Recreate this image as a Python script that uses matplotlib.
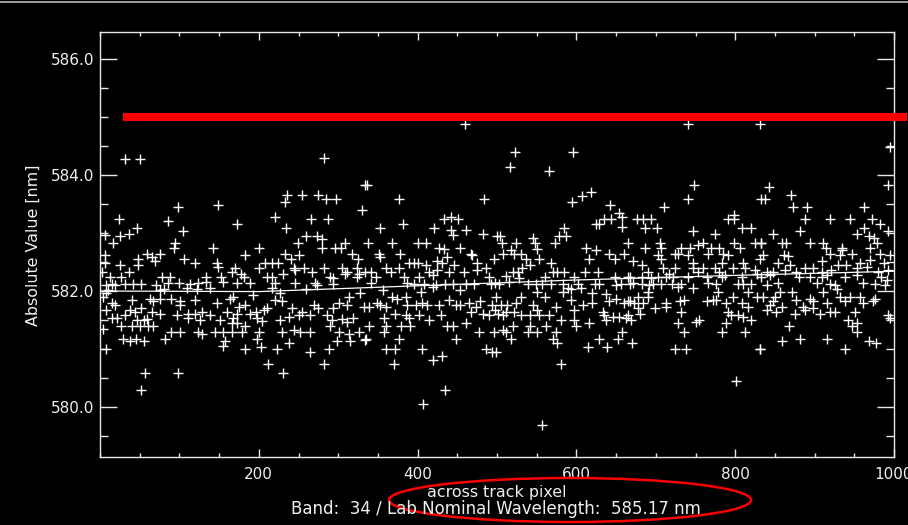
import matplotlib
matplotlib.use("Agg")
import matplotlib.pyplot as plt
from matplotlib.patches import Ellipse
from matplotlib.lines import Line2D
from matplotlib.ticker import MultipleLocator

# ---- data ----
px_1 = [31, 50, 98, 149, 24, 86, 104, 47, 36, 25, 6, 17, 94, 93, 142, 6, 59, 65, 69, 76,
        48, 48, 25, 6, 2, 36, 106, 120, 147, 148, 166, 13, 27, 78, 88, 86, 8, 15, 19, 31,
        42, 52, 71, 99, 113, 124, 134, 134, 153, 155, 10, 76, 80, 109, 122, 139, 8, 4, 63, 76,
        67, 90, 101, 120, 15, 19, 40, 147, 164, 101, 8, 38, 52, 65, 76, 111, 120, 128, 139, 160,
        21, 31, 44, 46, 55, 59, 97, 111, 151, 166, 4, 27, 40, 50, 61, 67, 15, 126, 168, 29,
        38, 45, 55, 82, 90, 101, 124, 129, 145, 155, 166, 157, 155, 8, 57, 98, 52]
val_1 = [584.28, 584.28, 583.44, 583.49, 583.24, 583.20, 583.04, 583.09, 582.99, 582.95, 582.97, 582.82, 582.82, 582.75, 582.75, 582.62, 582.64, 582.59, 582.51, 582.64,
         582.56, 582.45, 582.45, 582.48, 582.33, 582.33, 582.55, 582.49, 582.48, 582.42, 582.33, 582.25, 582.25, 582.25, 582.25, 582.13, 582.10, 582.12, 582.10, 582.12,
         582.12, 582.12, 582.10, 582.13, 582.12, 582.13, 582.16, 582.25, 582.25, 582.16, 582.02, 582.02, 582.03, 582.05, 582.03, 582.05, 581.96, 581.90, 581.87, 581.87,
         581.82, 581.87, 581.82, 581.84, 581.79, 581.76, 581.84, 581.79, 581.87, 581.76, 581.67, 581.67, 581.70, 581.64, 581.61, 581.61, 581.61, 581.63, 581.59, 581.64,
         581.53, 581.59, 581.63, 581.50, 581.50, 581.51, 581.59, 581.53, 581.50, 581.44, 581.34, 581.39, 581.39, 581.39, 581.39, 581.39, 581.53, 581.50, 581.53, 581.18,
         581.13, 581.17, 581.14, 581.18, 581.30, 581.30, 581.30, 581.26, 581.30, 581.30, 581.30, 581.14, 581.05, 581.00, 580.59, 580.59, 580.30]

px_2 = [282, 334, 330, 173, 235, 233, 254, 275, 285, 297, 221, 266, 287, 234, 259, 273, 279, 249, 279, 303,
        308, 296, 200, 183, 233, 240, 250, 318, 325, 208, 217, 224, 170, 200, 244, 257, 267, 282, 305, 311,
        324, 177, 181, 210, 231, 246, 217, 221, 290, 294, 309, 326, 324, 334, 173, 189, 246, 271, 273, 294,
        217, 259, 227, 193, 168, 313, 328, 221, 229, 183, 175, 206, 210, 242, 254, 250, 269, 275, 294, 301,
        311, 332, 173, 189, 196, 198, 204, 227, 238, 265, 286, 292, 305, 311, 319, 173, 179, 183, 200, 229,
        244, 252, 265, 290, 301, 313, 326, 334, 198, 238, 298, 315, 182, 203, 223, 288, 265, 212, 282, 231]
val_2 = [584.29, 583.83, 583.40, 583.15, 583.66, 583.54, 583.66, 583.66, 583.59, 583.59, 583.28, 583.24, 583.24, 583.08, 582.94, 582.95, 582.89, 582.83, 582.75, 582.75,
         582.83, 582.75, 582.75, 582.62, 582.64, 582.56, 582.62, 582.64, 582.56, 582.49, 582.49, 582.49, 582.39, 582.39, 582.39, 582.39, 582.33, 582.39, 582.39, 582.33,
         582.39, 582.30, 582.25, 582.25, 582.29, 582.36, 582.25, 582.13, 582.25, 582.22, 582.30, 582.30, 582.25, 582.33, 582.13, 582.13, 582.13, 582.13, 582.10, 582.12,
         582.05, 582.03, 581.96, 581.93, 581.90, 581.90, 581.96, 581.84, 581.82, 581.76, 581.73, 581.67, 581.70, 581.70, 581.64, 581.59, 581.76, 581.70, 581.70, 581.79,
         581.76, 581.73, 581.61, 581.61, 581.64, 581.53, 581.49, 581.50, 581.56, 581.59, 581.59, 581.50, 581.51, 581.47, 581.53, 581.45, 581.30, 581.39, 581.30, 581.30,
         581.33, 581.30, 581.30, 581.39, 581.30, 581.26, 581.30, 581.16, 581.17, 581.10, 581.14, 581.14, 581.00, 581.04, 581.00, 581.00, 580.94, 580.75, 580.75, 580.59]

px_3 = [336, 377, 484, 353, 382, 421, 433, 442, 451, 442, 444, 461, 482, 500, 337, 368, 400, 410, 427, 433,
        454, 467, 469, 351, 353, 378, 389, 395, 400, 410, 437, 425, 446, 475, 496, 341, 347, 360, 366, 377,
        383, 402, 414, 419, 425, 431, 440, 458, 475, 486, 490, 341, 356, 387, 395, 408, 419, 423, 435, 444,
        454, 461, 471, 492, 498, 404, 385, 368, 374, 339, 349, 353, 360, 387, 398, 406, 412, 427, 440, 448,
        454, 465, 473, 479, 494, 498, 372, 385, 389, 358, 402, 429, 467, 482, 490, 339, 360, 379, 391, 414,
        437, 445, 461, 477, 496, 335, 358, 377, 448, 360, 372, 406, 486, 494, 370, 419, 431, 434, 407, 460]
val_3 = [583.83, 583.58, 583.58, 583.08, 583.15, 583.08, 583.25, 583.28, 583.25, 583.05, 582.97, 583.05, 582.99, 582.95, 582.83, 582.83, 582.83, 582.83, 582.75, 582.72,
         582.75, 582.64, 582.62, 582.64, 582.58, 582.64, 582.49, 582.49, 582.49, 582.45, 582.59, 582.51, 582.45, 582.49, 582.56, 582.33, 582.25, 582.39, 582.33, 582.39,
         582.25, 582.25, 582.33, 582.28, 582.36, 582.49, 582.33, 582.33, 582.36, 582.39, 582.25, 582.13, 582.02, 582.13, 582.12, 582.12, 582.07, 582.10, 582.12, 582.12,
         582.02, 582.12, 582.12, 582.12, 582.13, 581.99, 581.90, 581.90, 581.87, 581.73, 581.79, 581.76, 581.73, 581.76, 581.76, 581.79, 581.76, 581.76, 581.84, 581.76,
         581.76, 581.79, 581.73, 581.82, 581.76, 581.67, 581.61, 581.59, 581.53, 581.53, 581.59, 581.59, 581.63, 581.61, 581.59, 581.39, 581.39, 581.39, 581.39, 581.50,
         581.39, 581.39, 581.45, 581.30, 581.30, 581.18, 581.30, 581.18, 581.18, 581.00, 581.00, 581.00, 581.00, 580.95, 580.75, 580.81, 580.88, 580.30, 580.05, 584.88]

px_4 = [523, 596, 517, 565, 594, 607, 619, 642, 654, 657, 625, 629, 635, 644, 658, 585, 578, 587, 573, 504,
        506, 524, 545, 548, 612, 625, 616, 507, 518, 522, 530, 536, 553, 551, 568, 541, 532, 641, 648, 660,
        511, 520, 526, 560, 570, 576, 585, 597, 611, 627, 648, 665, 503, 515, 528, 539, 549, 557, 568, 583,
        589, 602, 623, 629, 650, 656, 667, 551, 560, 583, 593, 606, 620, 637, 530, 499, 505, 513, 501, 524,
        545, 551, 574, 593, 597, 608, 620, 633, 635, 641, 650, 660, 667, 511, 507, 522, 530, 541, 553, 566,
        581, 597, 599, 616, 637, 646, 654, 662, 520, 541, 562, 507, 511, 539, 551, 574, 658, 518, 570, 576,
        629, 652, 614, 639, 499, 581, 557]
val_4 = [584.39, 584.39, 584.14, 584.07, 583.54, 583.64, 583.70, 583.48, 583.34, 583.28, 583.15, 583.15, 583.24, 583.24, 583.11, 583.08, 582.95, 582.95, 582.83, 582.95,
         582.83, 582.83, 582.91, 582.83, 582.75, 582.70, 582.56, 582.64, 582.71, 582.64, 582.64, 582.56, 582.56, 582.72, 582.49, 582.45, 582.39, 582.64, 582.56, 582.64,
         582.26, 582.33, 582.33, 582.25, 582.33, 582.33, 582.33, 582.25, 582.33, 582.33, 582.25, 582.25, 582.12, 582.16, 582.22, 582.12, 582.12, 582.12, 582.12, 582.12,
         582.05, 582.12, 582.12, 582.12, 582.10, 582.12, 582.12, 581.99, 581.90, 581.99, 582.03, 582.05, 581.96, 581.95, 581.90, 581.90, 581.76, 581.76, 581.61, 581.79,
         581.76, 581.68, 581.73, 581.84, 581.67, 581.76, 581.79, 581.64, 581.59, 581.82, 581.87, 581.79, 581.82, 581.64, 581.59, 581.64, 581.59, 581.59, 581.59, 581.59,
         581.50, 581.50, 581.39, 581.45, 581.50, 581.56, 581.56, 581.53, 581.39, 581.39, 581.39, 581.33, 581.30, 581.30, 581.30, 581.30, 581.30, 581.18, 581.18, 581.10,
         581.18, 581.18, 581.04, 581.04, 580.94, 580.75, 579.69]

px_5 = [748, 741, 710, 833, 676, 684, 694, 686, 701, 747, 775, 791, 799, 799, 808, 820, 665, 705, 707, 686,
        732, 743, 753, 759, 770, 780, 799, 806, 825, 833, 671, 682, 703, 707, 724, 728, 741, 747, 766, 785,
        791, 783, 810, 831, 690, 709, 724, 717, 747, 753, 759, 774, 780, 797, 812, 825, 667, 682, 694, 703,
        713, 722, 741, 764, 783, 787, 808, 827, 671, 682, 692, 696, 707, 720, 732, 766, 776, 804, 810, 820,
        690, 728, 747, 778, 816, 678, 690, 797, 827, 665, 673, 684, 713, 730, 736, 764, 772, 776, 789, 808,
        816, 678, 699, 713, 732, 791, 795, 804, 810, 820, 665, 669, 680, 728, 751, 755, 789, 736, 783, 812,
        670, 724, 738, 831, 801, 741]
val_5 = [583.83, 583.58, 583.44, 583.58, 583.24, 583.24, 583.24, 583.08, 583.08, 583.04, 582.99, 583.24, 583.31, 583.24, 583.08, 583.08, 582.83, 582.83, 582.75, 582.75,
         582.75, 582.75, 582.79, 582.83, 582.75, 582.75, 582.83, 582.75, 582.83, 582.83, 582.51, 582.45, 582.62, 582.56, 582.64, 582.64, 582.62, 582.49, 582.64, 582.64,
         582.62, 582.49, 582.49, 582.56, 582.33, 582.39, 582.39, 582.30, 582.39, 582.33, 582.39, 582.39, 582.33, 582.39, 582.39, 582.36, 582.25, 582.25, 582.22, 582.25,
         582.25, 582.25, 582.25, 582.25, 582.25, 582.28, 582.25, 582.30, 582.13, 582.12, 582.10, 582.12, 582.12, 582.12, 582.12, 582.13, 582.12, 582.12, 582.12, 582.12,
         581.99, 582.07, 582.05, 581.99, 581.99, 581.90, 581.90, 581.90, 581.90, 581.82, 581.79, 581.79, 581.79, 581.82, 581.84, 581.82, 581.84, 581.84, 581.79, 581.79,
         581.73, 581.70, 581.70, 581.73, 581.63, 581.63, 581.59, 581.59, 581.56, 581.50, 581.59, 581.50, 581.61, 581.45, 581.47, 581.50, 581.45, 581.30, 581.30, 581.30,
         581.10, 581.00, 581.00, 581.00, 580.44, 584.88]

px_6 = [842, 838, 870, 873, 891, 888, 920, 944, 962, 972, 982, 848, 881, 953, 962, 969, 975, 993, 833, 859,
        864, 894, 910, 914, 934, 934, 970, 979, 835, 861, 867, 919, 932, 947, 909, 982, 995, 854, 869, 957,
        970, 987, 840, 848, 863, 877, 888, 898, 909, 921, 930, 940, 953, 966, 980, 993, 833, 844, 880, 894,
        909, 915, 938, 953, 984, 991, 840, 854, 903, 919, 926, 961, 976, 989, 856, 871, 911, 928, 835, 850,
        848, 877, 894, 915, 932, 945, 957, 976, 840, 844, 859, 886, 888, 898, 898, 907, 919, 926, 938, 951,
        961, 974, 852, 875, 942, 953, 947, 953, 993, 995, 868, 859, 882, 915, 968, 977, 938, 831, 831, 995,
        992]
val_6 = [583.79, 583.58, 583.66, 583.44, 583.44, 583.24, 583.24, 583.24, 583.44, 583.24, 583.15, 582.99, 583.04, 582.99, 583.08, 582.95, 582.91, 583.04, 582.83, 582.83,
         582.83, 582.83, 582.83, 582.75, 582.75, 582.70, 582.75, 582.83, 582.62, 582.62, 582.60, 582.64, 582.62, 582.64, 582.52, 582.64, 582.62, 582.49, 582.45, 582.49,
         582.53, 582.49, 582.33, 582.33, 582.36, 582.33, 582.39, 582.39, 582.33, 582.36, 582.45, 582.45, 582.39, 582.42, 582.33, 582.36, 582.25, 582.28, 582.25, 582.25,
         582.25, 582.28, 582.25, 582.28, 582.25, 582.19, 582.10, 582.13, 582.13, 582.12, 582.10, 582.13, 582.12, 582.10, 581.99, 581.99, 581.99, 582.03, 581.90, 581.90,
         581.83, 581.84, 581.87, 581.79, 581.90, 581.90, 581.90, 581.87, 581.67, 581.76, 581.73, 581.73, 581.67, 581.82, 581.70, 581.61, 581.64, 581.64, 581.82, 581.64,
         581.79, 581.82, 581.64, 581.61, 581.50, 581.45, 581.39, 581.30, 581.59, 581.53, 581.39, 581.14, 581.18, 581.18, 581.14, 581.10, 581.00, 581.00, 584.88, 584.48,
         583.83]

fit_x = [0, 200, 400, 600, 800, 1000]
fit_y = [582.00, 581.99, 582.09, 582.19, 582.27, 582.34]

ref_level = 585.0
ref_x = [29, 1017]

x_ticks = [200, 400, 600, 800, 1000]
x_ticklabels = ["200", "400", "600", "800", "1000"]
y_ticks = [580.0, 582.0, 584.0, 586.0]
y_ticklabels = ["580.0", "582.0", "584.0", "586.0"]

xs = px_1 + px_2 + px_3 + px_4 + px_5 + px_6
ys = val_1 + val_2 + val_3 + val_4 + val_5 + val_6

# ---- figure ----
W, H = 908, 525
fig = plt.figure(figsize=(W / 100, H / 100), dpi=100, facecolor="black")
ax = fig.add_axes([100 / W, 1 - 457 / H, 794 / W, 425 / H], facecolor="black")

ax.plot(xs, ys, linestyle="none", marker="+", ms=7.5, mew=1.0, color="white", zorder=3)
ax.plot(fit_x, fit_y, color="white", lw=0.9, zorder=4)
ax.plot(ref_x, [ref_level, ref_level], color="#ff0000", lw=5.8,
        solid_capstyle="butt", clip_on=False, zorder=6)

ax.set_xlim(0, 1000)
ax.set_ylim(579.138, 586.466)

for sp in ax.spines.values():
    sp.set_color("#e8e8e8")
    sp.set_linewidth(1.0)

ax.set_xticks(x_ticks)
ax.set_xticklabels(x_ticklabels)
ax.xaxis.set_minor_locator(MultipleLocator(50))
ax.set_yticks(y_ticks)
ax.set_yticklabels(y_ticklabels)
ax.yaxis.set_minor_locator(MultipleLocator(0.5))

ax.tick_params(axis="both", which="both", direction="in", colors="#e8e8e8",
               labelcolor="#f0f0f0", labelsize=11, width=1.0,
               top=True, right=True)
ax.tick_params(axis="y", which="major", length=12.5, pad=4)
ax.tick_params(axis="y", which="minor", length=6)
ax.tick_params(axis="x", which="major", length=6, pad=7)
ax.tick_params(axis="x", which="minor", length=3)

fig.text(33 / W, 1 - 245 / H, "Absolute Value [nm]", rotation=90,
         ha="center", va="center", color="#f0f0f0", fontsize=11.4)
fig.text(497 / W, 1 - 492 / H, "across track pixel", ha="center", va="center",
         color="#f0f0f0", fontsize=11.4)
fig.text(496 / W, 1 - 509 / H, "Band:  34 / Lab Nominal Wavelength:  585.17 nm",
         ha="center", va="center", color="#f0f0f0", fontsize=12)

fig.patches.append(Ellipse((570 / W, 1 - 500 / H), 362 / W, 44 / H,
                           transform=fig.transFigure, fill=False,
                           edgecolor="#ff0000", lw=1.8))
fig.add_artist(Line2D([0, 1], [1 - 2 / H, 1 - 2 / H], color="#b8b8b8", lw=1.2))

fig.savefig("out.png", dpi=100, facecolor="black")
